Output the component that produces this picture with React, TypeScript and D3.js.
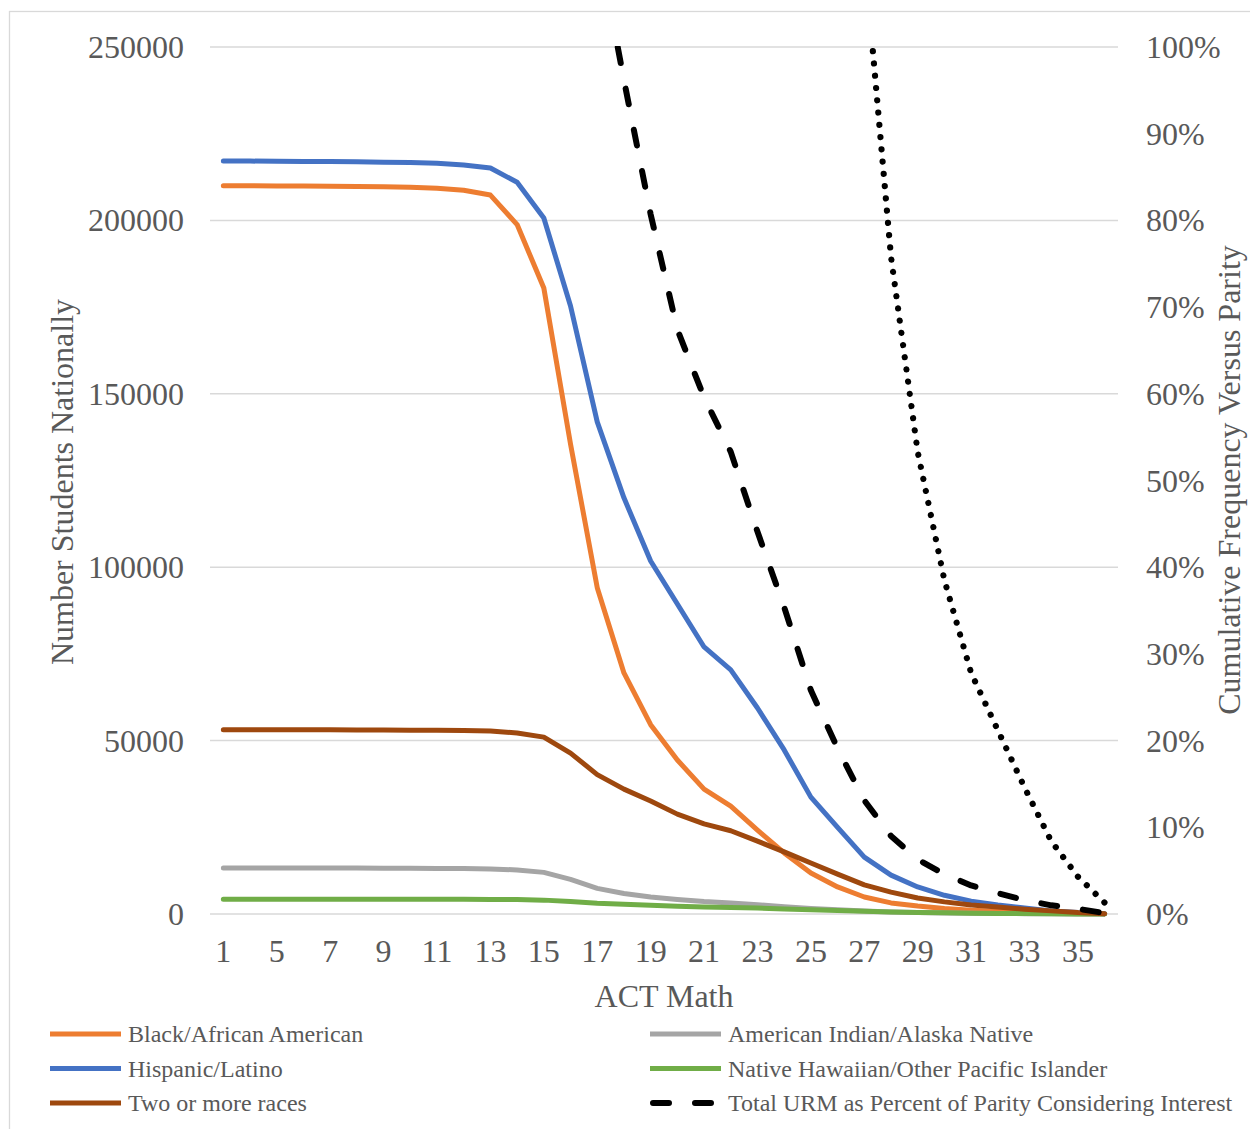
import React from "react";
import * as d3 from "d3";

// ACT Math score categories (second category label is hidden by Excel's label skipping)
const categories = ["1","3","5","6","7","8","9","10","11","12","13","14","15","16","17","18","19","20","21","22","23","24","25","26","27","28","29","30","31","32","33","34","35","36"];

const blackAfricanAmerican = [210000,210000,209950,209900,209850,209800,209700,209550,209300,208700,207300,198800,180500,135500,94100,69500,54600,44400,36000,31100,24200,17600,11800,7800,4900,3200,2300,1600,1100,800,500,300,150,50];
const americanIndian = [13250,13250,13250,13250,13250,13250,13200,13200,13150,13100,13000,12700,12000,10000,7400,5900,4900,4200,3600,3200,2700,2100,1600,1200,900,600,450,300,200,150,100,60,30,10];
const hispanicLatino = [217100,217100,217050,217000,216950,216900,216800,216700,216500,216000,215100,211000,200700,175300,141900,120000,101800,89400,77000,70400,59400,47300,33700,25000,16400,11200,7800,5400,3700,2600,1700,900,400,100];
const nativeHawaiian = [4250,4250,4250,4250,4250,4250,4250,4250,4250,4250,4200,4150,4000,3600,3100,2800,2500,2200,2000,1900,1700,1450,1200,1000,800,600,450,350,250,180,120,70,30,10];
const twoOrMore = [53100,53100,53100,53100,53100,53050,53050,53000,52950,52900,52800,52200,51000,46400,40200,36000,32600,28800,26000,24000,21000,17900,14700,11500,8400,6300,4600,3500,2600,2000,1400,900,400,100];

// Right axis (percent)
const totalURMPercent = [300,298,296,294,292,290,287,283,277,268,255,230,190,145,112.5,96.2,80.7,67.4,59.6,53.3,44.1,35.4,25.8,19.1,13.1,9.0,6.3,4.6,3.3,2.4,1.6,1.0,0.6,0.1];
const dottedPercent = [400,398,396,394,392,390,388,385,382,378,373,367,360,350,338,322,300,275,250,225,200,180,160,140,110.7,75.8,53.3,38.5,27.8,21.2,14.6,8.4,4.3,1.3];

const leftTicks = [0, 50000, 100000, 150000, 200000, 250000];
const rightTicks = [0, 10, 20, 30, 40, 50, 60, 70, 80, 90, 100];

const seriesDefs = [
  { name: "Black/African American", values: blackAfricanAmerican, color: "#ED7D31", axis: "L", dash: null },
  { name: "American Indian/Alaska Native", values: americanIndian, color: "#A5A5A5", axis: "L", dash: null },
  { name: "Hispanic/Latino", values: hispanicLatino, color: "#4472C4", axis: "L", dash: null },
  { name: "Native Hawaiian/Other Pacific Islander", values: nativeHawaiian, color: "#70AD47", axis: "L", dash: null },
  { name: "Two or more races", values: twoOrMore, color: "#9E480E", axis: "L", dash: null },
  { name: "Total URM as Percent of Parity Considering Interest", values: totalURMPercent, color: "#000000", axis: "R", dash: "dash" },
  { name: "", values: dottedPercent, color: "#000000", axis: "R", dash: "dot" },
];

const legendLayout = [
  { name: "Black/African American", col: 0, row: 0 },
  { name: "Hispanic/Latino", col: 0, row: 1 },
  { name: "Two or more races", col: 0, row: 2 },
  { name: "American Indian/Alaska Native", col: 1, row: 0 },
  { name: "Native Hawaiian/Other Pacific Islander", col: 1, row: 1 },
  { name: "Total URM as Percent of Parity Considering Interest", col: 1, row: 2 },
];

const FONT = "'Liberation Serif', 'Times New Roman', serif";
const TXT = "#595959";

export default function App() {
  const W = 1250, H = 1129;
  const plotL = 210, plotR = 1118, plotT = 47, plotB = 914;

  const x = d3.scaleBand<string>().domain(categories).range([plotL, plotR]).padding(0);
  const cx = (c: string) => (x(c) as number) + x.bandwidth() / 2;
  const yL = d3.scaleLinear().domain([0, 250000]).range([plotB, plotT]);
  const yR = d3.scaleLinear().domain([0, 100]).range([plotB, plotT]);

  const lineFor = (axis: string) =>
    d3.line<number>()
      .x((_, i) => cx(categories[i]))
      .y((v) => (axis === "L" ? yL(v) : yR(v)));

  const dashAttrs = (dash: string | null) => {
    if (dash === "dash") return { strokeDasharray: "16 26", strokeWidth: 6 };
    if (dash === "dot") return { strokeDasharray: "0.01 12.3", strokeWidth: 6.2 };
    return { strokeDasharray: undefined, strokeWidth: 5 };
  };

  const legendX = [50, 650];
  const legendY = [1034, 1068.5, 1103];

  return (
    <svg width={W} height={H} style={{ position: "absolute", left: 0, top: 0, background: "#fff" }} fontFamily={FONT}>
      <defs>
        <clipPath id="plotClip">
          <rect x={plotL - 10} y={plotT - 1} width={plotR - plotL + 20} height={plotB - plotT + 10} />
        </clipPath>
      </defs>
      <rect x={0} y={0} width={W} height={H} fill="#fff" />
      <rect x={9.5} y={11.5} width={1260} height={1200} fill="none" stroke="#d9d9d9" strokeWidth={1.3} />

      {/* gridlines */}
      {leftTicks.map((t) => (
        <line key={"g" + t} x1={plotL} x2={plotR} y1={yL(t)} y2={yL(t)} stroke="#d9d9d9" strokeWidth={1.5} />
      ))}

      {/* left tick labels */}
      {leftTicks.map((t) => (
        <text key={"l" + t} x={184} y={yL(t) + 11} textAnchor="end" fontSize={32} fill={TXT}>{t}</text>
      ))}
      {/* right tick labels */}
      {rightTicks.map((t) => (
        <text key={"r" + t} x={1146} y={yR(t) + 11} textAnchor="start" fontSize={32} fill={TXT}>{t + "%"}</text>
      ))}
      {/* x tick labels */}
      {categories.map((c, i) => i % 2 === 0 ? (
        <text key={"x" + c} x={cx(c)} y={962} textAnchor="middle" fontSize={32} fill={TXT}>{c}</text>
      ) : null)}

      {/* axis titles */}
      <text x={664} y={1007} textAnchor="middle" fontSize={32} fill={TXT}>ACT Math</text>
      <text transform="translate(73,482) rotate(-90)" textAnchor="middle" fontSize={32} fill={TXT}>Number Students Nationally</text>
      <text transform="translate(1240,480) rotate(-90)" textAnchor="middle" fontSize={32} fill={TXT}>Cumulative Frequency Versus Parity</text>

      {/* series */}
      <g clipPath="url(#plotClip)">
        {seriesDefs.map((s, k) => {
          const da = dashAttrs(s.dash);
          return (
            <path
              key={"s" + k}
              d={lineFor(s.axis)(s.values) as string}
              fill="none"
              stroke={s.color}
              strokeWidth={da.strokeWidth}
              strokeDasharray={da.strokeDasharray}
              strokeLinecap="round"
              strokeLinejoin="round"
            />
          );
        })}
      </g>

      {/* legend */}
      {legendLayout.map((l) => {
        const s = seriesDefs.find((d) => d.name === l.name)!;
        const da = dashAttrs(s.dash);
        const lx = legendX[l.col];
        const ly = legendY[l.row];
        return (
          <g key={"lg" + l.name}>
            <line
              x1={s.dash ? lx + 3 : lx} x2={s.dash ? lx + 67 : lx + 71} y1={ly} y2={ly}
              stroke={s.color}
              strokeWidth={s.dash ? 6 : 5}
              strokeDasharray={da.strokeDasharray}
              strokeLinecap={s.dash ? "round" : "butt"}
            />
            <text x={lx + 78} y={ly + 8} fontSize={24} fill={TXT}>{l.name}</text>
          </g>
        );
      })}
    </svg>
  );
}
